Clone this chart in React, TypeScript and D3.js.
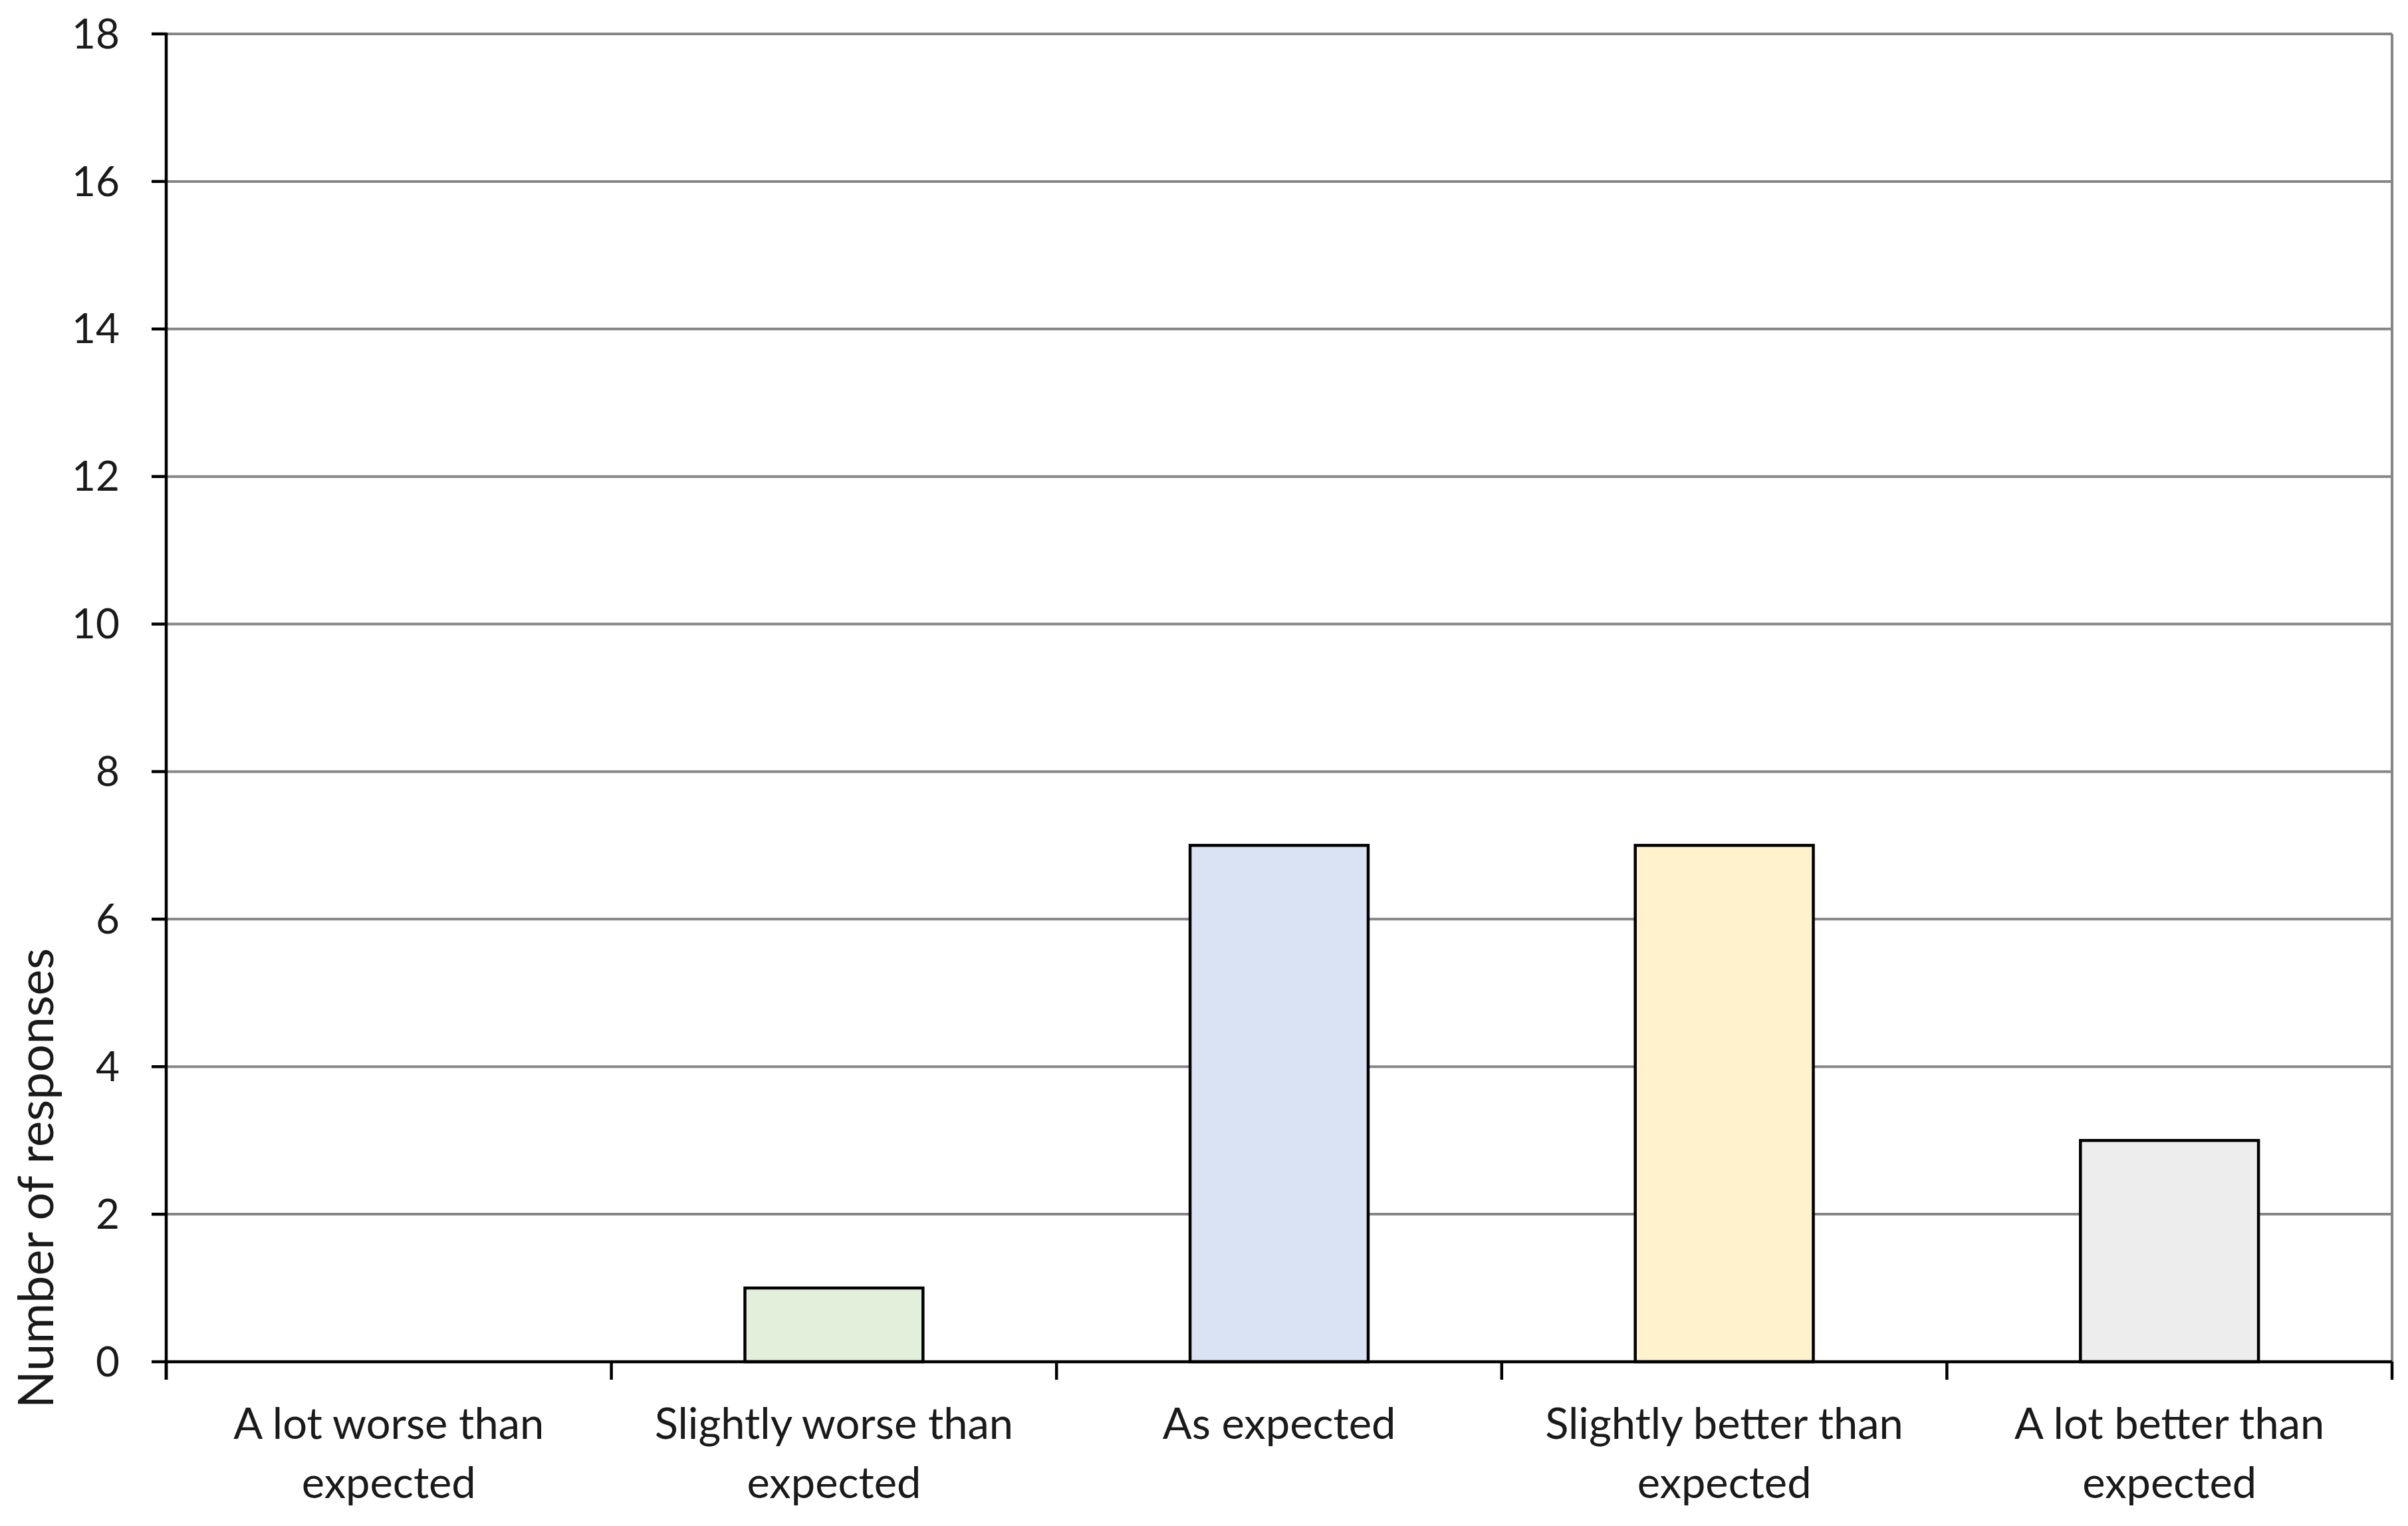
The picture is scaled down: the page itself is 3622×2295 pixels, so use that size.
import * as d3 from "d3";

const categories = [
  "A lot worse than expected",
  "Slightly worse than expected",
  "As expected",
  "Slightly better than expected",
  "A lot better than expected",
];
const labelLines = [
  ["A lot worse than", "expected"],
  ["Slightly worse than", "expected"],
  ["As expected"],
  ["Slightly better than", "expected"],
  ["A lot better than", "expected"],
];
const responses = [0, 1, 7, 7, 3];
const barColors = ["#dfe9f5", "#e2efda", "#dae3f3", "#fff2cc", "#ededed"];
const yTicks = [0, 2, 4, 6, 8, 10, 12, 14, 16, 18];

const width = 3622;
const height = 2295;
const marginLeft = 250;
const marginRight = 24;
const marginTop = 51;
const marginBottom = 247;

const font = "Lato, 'Open Sans', sans-serif";

export default function App() {
  const x = d3
    .scaleBand()
    .domain(categories)
    .range([marginLeft, width - marginRight])
    .padding(0);

  const y = d3
    .scaleLinear()
    .domain([0, 18])
    .range([height - marginBottom, marginTop]);

  const barWidth = x.bandwidth() * 0.4;
  const y0 = y(0);
  const right = width - marginRight;
  const boundaries = categories.map((c) => x(c) || 0).concat([right]);

  return (
    <svg
      width={width}
      height={height}
      style={{ position: "absolute", left: 0, top: 0, background: "#fff" }}
    >
      {/* gridlines */}
      {yTicks.map((t) =>
        t === 0 ? null : (
          <line
            key={"g" + t}
            x1={marginLeft}
            x2={right}
            y1={y(t)}
            y2={y(t)}
            stroke="#868686"
            strokeWidth={4}
          />
        )
      )}
      <line x1={right} x2={right} y1={marginTop} y2={y0} stroke="#868686" strokeWidth={4} />

      {/* bars */}
      {responses.map((d, i) =>
        d > 0 ? (
          <rect
            key={"b" + i}
            x={(x(categories[i]) || 0) + (x.bandwidth() - barWidth) / 2}
            y={y(d)}
            width={barWidth}
            height={y0 - y(d)}
            fill={barColors[i]}
            stroke="#000"
            strokeWidth={4.5}
          />
        ) : null
      )}

      {/* y axis */}
      <line x1={marginLeft} x2={marginLeft} y1={marginTop - 2} y2={y0 + 27} stroke="#000" strokeWidth={4.5} />
      {yTicks.map((t) => (
        <g key={"y" + t}>
          <line x1={marginLeft - 22} x2={marginLeft} y1={y(t)} y2={y(t)} stroke="#000" strokeWidth={4.5} />
          <text
            x={180}
            y={y(t)}
            dy="0.35em"
            textAnchor="end"
            fontFamily={font}
            fontSize={62}
            fill="#1a1a1a"
          >
            {t}
          </text>
        </g>
      ))}

      {/* x axis */}
      <line x1={marginLeft} x2={right} y1={y0} y2={y0} stroke="#000" strokeWidth={4.5} />
      {boundaries.map((b, i) => (
        <line key={"xt" + i} x1={b} x2={b} y1={y0} y2={y0 + 27} stroke="#000" strokeWidth={4.5} />
      ))}
      {categories.map((c, i) => (
        <text
          key={"xl" + i}
          textAnchor="middle"
          fontFamily={font}
          fontSize={65}
          fill="#1a1a1a"
        >
          {labelLines[i].map((line, j) => (
            <tspan key={j} x={(x(c) || 0) + x.bandwidth() / 2} y={y0 + 116 + j * 89}>
              {line}
            </tspan>
          ))}
        </text>
      ))}

      {/* y title */}
      <text
        transform={`translate(80, 1772) rotate(-90)`}
        textAnchor="middle"
        fontFamily={font}
        fontSize={74}
        fill="#1a1a1a"
      >
        Number of responses
      </text>
    </svg>
  );
}
